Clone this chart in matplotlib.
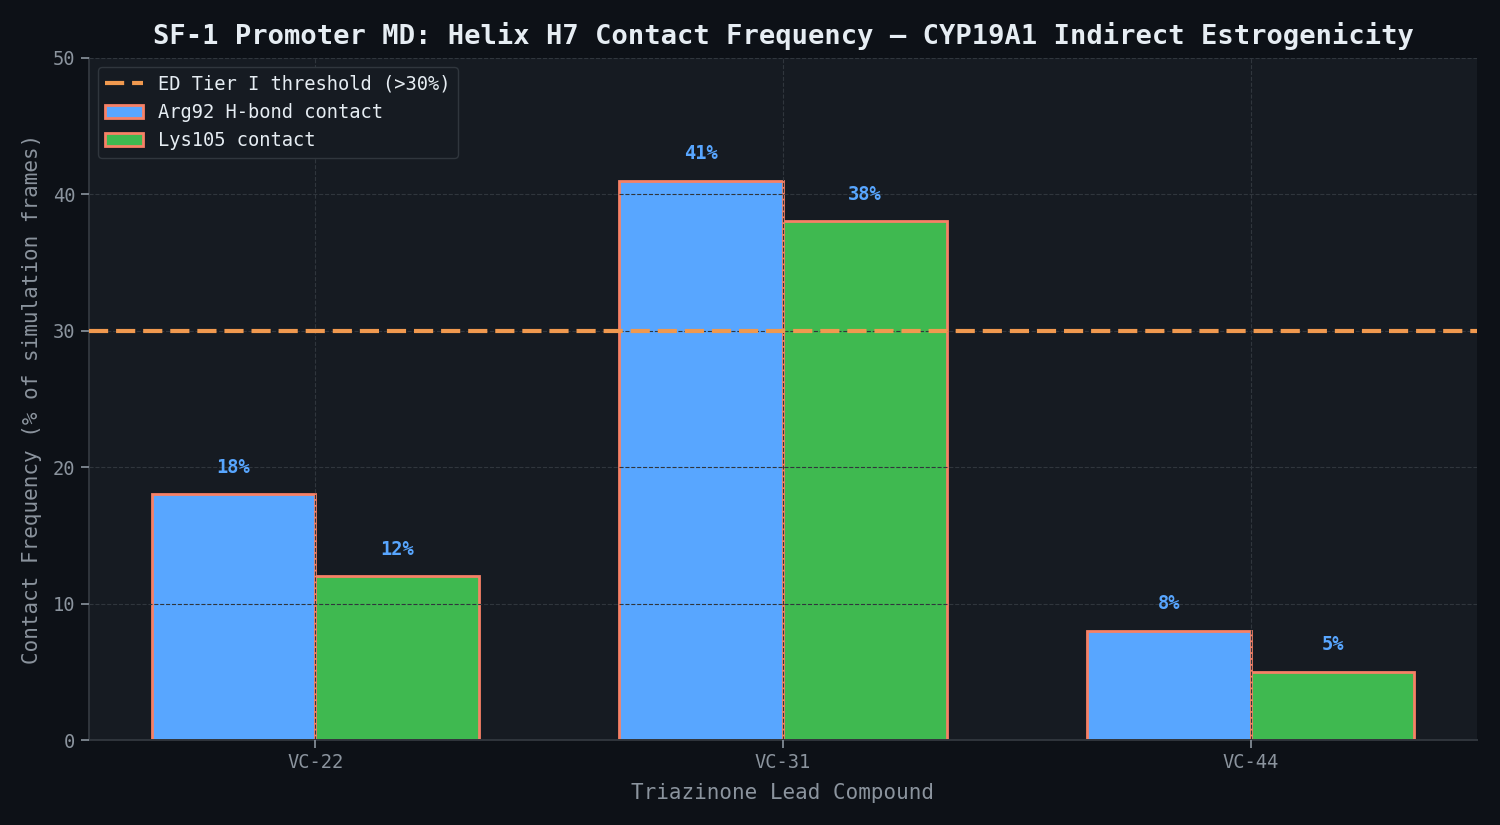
import matplotlib
matplotlib.use('Agg')
import matplotlib.pyplot as plt
import numpy as np

compounds = ['VC-22', 'VC-31', 'VC-44']
arg92 = [18, 41, 8]
lys105 = [12, 38, 5]
threshold = 30

plt.rcParams['font.family'] = ['DejaVu Sans Mono']

fig, ax = plt.subplots(figsize=(15, 8.25), dpi=100)
fig.patch.set_facecolor('#0d1117')
ax.set_facecolor('#161b22')

x = np.arange(len(compounds))
w = 0.35
ax.axhline(threshold, color='#f0994f', linestyle='--', linewidth=3, dashes=(4.6, 1.9),
           label='ED Tier I threshold (>30%)', zorder=3)
b1 = ax.bar(x - w / 2, arg92, w, color='#58a6ff', edgecolor='#f78166', linewidth=2,
            label='Arg92 H-bond contact', zorder=2)
b2 = ax.bar(x + w / 2, lys105, w, color='#3fb950', edgecolor='#f78166', linewidth=2,
            label='Lys105 contact', zorder=2)

for bars, vals in [(b1, arg92), (b2, lys105)]:
    for bar, v in zip(bars, vals):
        ax.text(bar.get_x() + bar.get_width() / 2, v + 1.3, f'{v}%', ha='center', va='bottom',
                color='#58a6ff', fontsize=13.5, fontweight='bold', zorder=4)

ax.set_ylim(0, 50)
ax.set_xticks(x)
ax.set_xticklabels(compounds)
ax.grid(True, color='#30363d', linestyle='--', linewidth=0.8, zorder=2.5)
ax.set_axisbelow(False)

for s in ['top', 'right']:
    ax.spines[s].set_visible(False)
for s in ['left', 'bottom']:
    ax.spines[s].set_color('#30363d')
    ax.spines[s].set_linewidth(1.4)
ax.tick_params(colors='#8b949e', labelsize=13.5, length=6, width=1.2)

ax.set_title('SF-1 Promoter MD: Helix H7 Contact Frequency \u2014 CYP19A1 Indirect Estrogenicity',
             color='#e6edf3', fontsize=19.5, fontweight='bold', pad=10)
ax.set_xlabel('Triazinone Lead Compound', color='#8b949e', fontsize=15, labelpad=8)
ax.set_ylabel('Contact Frequency (% of simulation frames)', color='#8b949e', fontsize=15, labelpad=8)

leg = ax.legend(loc='upper left', facecolor='#161b22', edgecolor='#30363d', fontsize=13.5,
                labelcolor='#e6edf3', framealpha=1)

fig.subplots_adjust(left=0.059, right=0.985, top=0.93, bottom=0.103)
fig.savefig('out.png', dpi=100, facecolor=fig.get_facecolor())
